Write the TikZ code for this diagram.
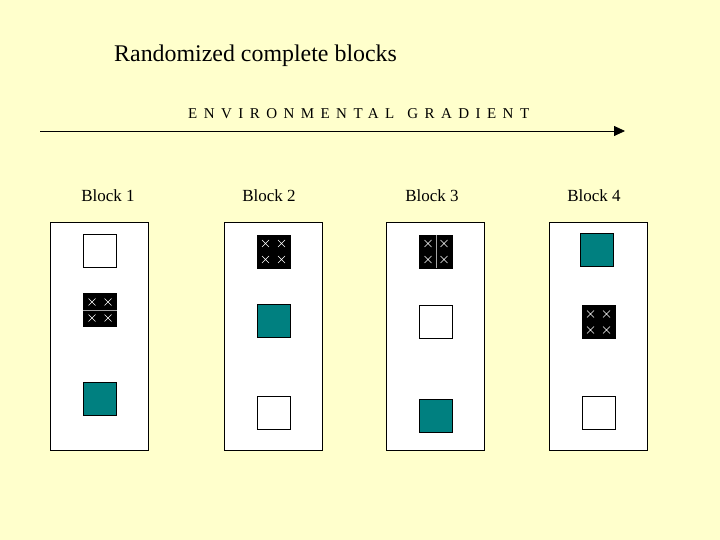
\documentclass[tikz,border=0pt]{standalone}
\usepackage{fontspec}
\setmainfont{Liberation Serif}
\newfontfamily\spacedfont[LetterSpace=43]{Liberation Serif}
\usetikzlibrary{arrows.meta}
\definecolor{bgyellow}{RGB}{255,255,204}
\definecolor{plotteal}{RGB}{0,128,128}

\tikzset{
  blockbox/.style={draw, fill=white, line width=0.9pt, minimum width=98pt, minimum height=228pt, inner sep=0pt},
  plotbox/.style={draw, line width=0.8pt, minimum size=33pt, inner sep=0pt},
  emptyplot/.style={plotbox, fill=white},
  tealplot/.style={plotbox, fill=plotteal},
  crossplot/.style={plotbox, fill=black, path picture={
      \foreach \dx in {-8pt,8pt} \foreach \dy in {-8pt,8pt} {
        \draw[white, line width=0.6pt]
          ([shift={(\dx-3.5pt,\dy-3.5pt)}]path picture bounding box.center) -- ++(7pt,7pt)
          ([shift={(\dx-3.5pt,\dy+3.5pt)}]path picture bounding box.center) -- ++(7pt,-7pt);
      }}},
  divider/.style={gray!70, line width=0.8pt},
  blocklabel/.style={anchor=base, font=\fontsize{17}{20}\selectfont},
}

\begin{document}
\begin{tikzpicture}[x=1pt,y=1pt,yscale=-1]
% background
\fill[bgyellow] (0,0) rectangle (720,540);
\useasboundingbox (0,0) rectangle (720,540);

% Text Node
\node[anchor=base west, inner sep=0pt, font=\fontsize{23.9}{28}\selectfont] (title) at (114,62) {Randomized complete blocks};
% Text Node
\node[anchor=base west, inner sep=0pt, font=\fontsize{15}{18}\spacedfont] (gradtext) at (188,119) {ENVIRONMENTAL\hspace{13pt}GRADIENT};

%Straight Lines
\coordinate (gradstart) at (40,131);
\coordinate (gradend) at (625,131);
\draw[line width=0.8pt, -{Triangle[length=11pt,width=10pt]}] (gradstart) -- (gradend);

% Text Node
\node[blocklabel] (lab1) at (108,202) {Block 1};
\node[blocklabel] (lab2) at (269,202) {Block 2};
\node[blocklabel] (lab3) at (432,202) {Block 3};
\node[blocklabel] (lab4) at (594,202) {Block 4};

%Shape: Rectangle
\node[blockbox] (block1) at (99.75,336) {};
\node[blockbox] (block2) at (273.5,336.5) {};
\node[blockbox] (block3) at (435.5,336) {};
\node[blockbox] (block4) at (598.5,336) {};

% Block 1
\node[emptyplot] (b1empty) at (100,251) {};
\node[crossplot] (b1cross) at (100,310) {};
\node[tealplot] (b1teal) at (100,399) {};
\draw[divider] (b1cross.west) -- (b1cross.east);

% Block 2
\node[crossplot] (b2cross) at (273.5,251.5) {};
\node[tealplot] (b2teal) at (273.5,320.5) {};
\node[emptyplot] (b2empty) at (273.5,413) {};

% Block 3
\node[crossplot] (b3cross) at (436,251.5) {};
\node[emptyplot] (b3empty) at (436,322) {};
\node[tealplot] (b3teal) at (436,415.5) {};
\draw[divider] (b3cross.north) -- (b3cross.south);

% Block 4
\node[tealplot] (b4teal) at (597,249.5) {};
\node[crossplot] (b4cross) at (598.5,322) {};
\node[emptyplot] (b4empty) at (598.5,413) {};

\end{tikzpicture}
\end{document}
